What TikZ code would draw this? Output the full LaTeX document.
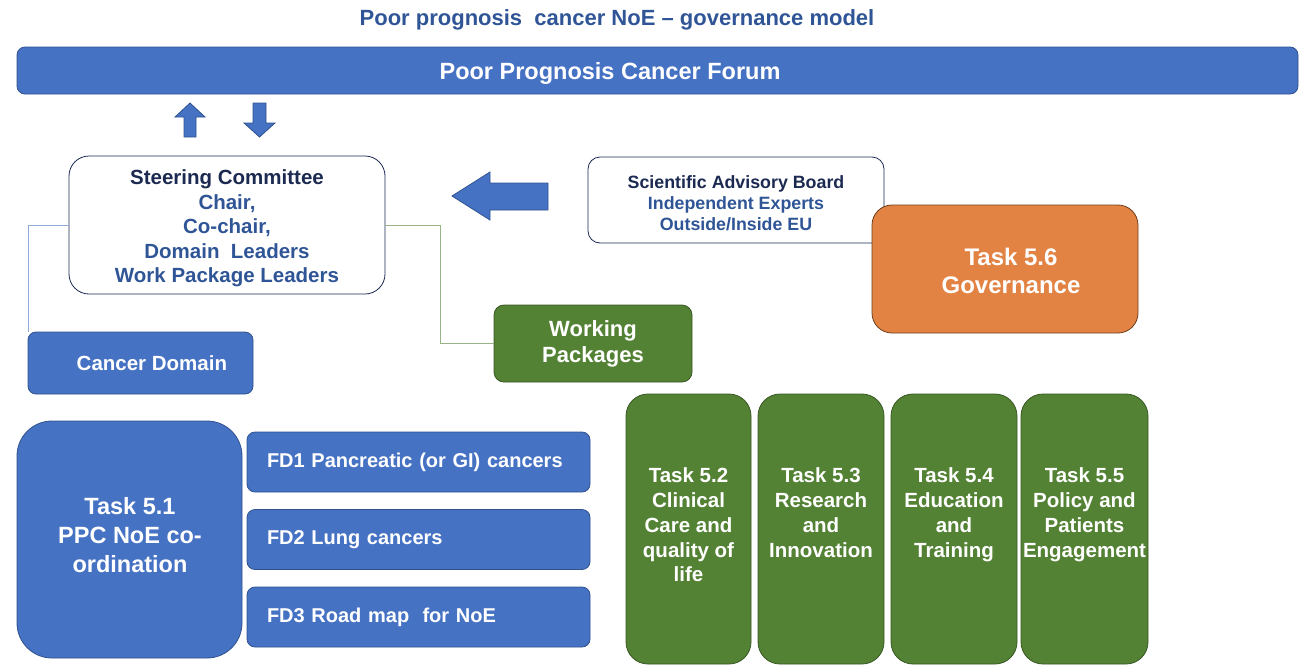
\documentclass[tikz,border=0pt]{standalone}
\usepackage{fontspec}
\setmainfont{Liberation Sans}
\usepackage{xcolor}
\usepackage{tikz}
\usetikzlibrary{positioning}
\definecolor{ppcblue}{RGB}{70,114,196}
\definecolor{ppcblueline}{RGB}{47,82,143}
\definecolor{ppcgreen}{RGB}{84,130,53}
\definecolor{ppcgreenline}{RGB}{56,87,35}
\definecolor{ppcorange}{RGB}{226,131,67}
\definecolor{ppcorangeline}{RGB}{110,62,28}
\definecolor{navytext}{RGB}{47,85,151}
\definecolor{darknavy}{RGB}{28,42,82}

\begin{document}
\begin{tikzpicture}[x=1pt,y=-1pt,
    bluebox/.style={draw=ppcblueline,thick,fill=ppcblue,rounded corners=8pt,text=white,font=\bfseries,align=center,inner sep=0pt},
    greenbox/.style={draw=ppcgreenline,thick,fill=ppcgreen,rounded corners=10pt,text=white,font=\bfseries,align=center,inner sep=0pt},
    whitebox/.style={draw=darknavy,thick,fill=white,align=center,inner sep=0pt,font=\bfseries},
    fdbox/.style={bluebox,text width=303pt,inner xsep=20pt,align=left,minimum height=60pt,font=\fontsize{20}{24}\bfseries},
    taskbox/.style={greenbox,rounded corners=22pt,minimum width=126pt,minimum height=270pt},
    tasktext/.style={text=white,align=center,inner sep=0pt,font=\fontsize{20.5}{24.8}\bfseries},
    blockarrow/.style={draw=ppcblueline,thick,fill=ppcblue,line join=miter}]
    \useasboundingbox (0,0) rectangle (1306,670);
    % Title
    \node[text=navytext,font=\fontsize{22}{26}\bfseries] (title) at (617,20) {Poor prognosis\ \ cancer NoE -- governance model};
    % Forum bar
    \node[bluebox,minimum width=1281pt,minimum height=47pt] (forum) at (657.5,70.5) {};
    \node[text=white,font=\fontsize{23.5}{28}\bfseries,inner sep=0pt] (forumtxt) at (610,73) {Poor Prognosis Cancer Forum};
    % Up and down arrows
    \draw[blockarrow] (184,137) -- (184,117) -- (175,117) -- (190,103) -- (205,117) -- (196,117) -- (196,137) -- cycle;
    \draw[blockarrow] (253,103) -- (253,123) -- (244,123) -- (259.5,137) -- (275,123) -- (266,123) -- (266,103) -- cycle;
    % Steering committee
    \node[whitebox,rounded corners=20pt,minimum width=316pt,minimum height=138pt] (steer) at (227,225) {};
    \node[align=center,inner sep=0pt,font=\fontsize{20.5}{24.5}\bfseries] (steertxt) at (227,228.5)
        {\textcolor{darknavy}{Steering Committee}\\ \textcolor{navytext}{Chair,}\\ \textcolor{navytext}{Co-chair,}\\ \textcolor{navytext}{Domain\ \ Leaders}\\ \textcolor{navytext}{Work Package\ Leaders}};
    % Scientific advisory board and arrow to committee
    \node[whitebox,rounded corners=12pt,minimum width=296pt,minimum height=86pt] (sab) at (736,200) {};
    \node[align=center,inner sep=0pt,font=\fontsize{17.8}{21}\bfseries] (sabtxt) at (736,203)
        {\textcolor{darknavy}{Scientific Advisory Board}\\ \textcolor{navytext}{Independent Experts}\\ \textcolor{navytext}{Outside/Inside EU}};
    \draw[blockarrow] (548,183) -- (490,183) -- (490,172) -- (452,196) -- (490,220) -- (490,210) -- (548,210) -- cycle;
    % Governance
    \node[draw=ppcorangeline,thick,fill=ppcorange,rounded corners=20pt,minimum width=266pt,minimum height=128pt] (gov) at (1005,269) {};
    \node[text=white,align=center,inner sep=0pt,font=\fontsize{24}{28}\bfseries] (govtxt) at (1011,271) {Task 5.6\\ Governance};
    % Domain and packages
    \node[bluebox,minimum width=225pt,minimum height=62pt,font=\fontsize{20.5}{24}\bfseries] (cdom) at (140.5,363) {\ \ \ \ Cancer Domain};
    \node[greenbox,minimum width=198pt,minimum height=77pt,font=\fontsize{22}{26}\bfseries] (wp) at (593,343.5) {Working\\ Packages};
    \coordinate (wpbend) at (440,0);
    \draw[ppcblue!60] (steer.west) -| ([xshift=1pt]cdom.north west);
    \draw[ppcgreen!60] (steer.east) -| (wpbend |- wp.west) -- (wp.west);
    % Task 5.1 and focus domains
    \node[bluebox,rounded corners=35pt,minimum width=225pt,minimum height=237pt] (t51) at (129.5,539.5) {};
    \node[text=white,align=center,inner sep=0pt,font=\fontsize{23.5}{29}\bfseries] (t51txt) at (130,535) {Task 5.1\\ PPC NoE co-\\ ordination};
    \node[fdbox] (fd1) at (418.5,462) {FD1 Pancreatic (or GI) cancers};
    \node[fdbox] (fd2) at (418.5,539.5) {FD2 Lung cancers};
    \node[fdbox] (fd3) at (418.5,617) {FD3 Road map\ \ for NoE};
    % Work package tasks
    \node[taskbox,minimum width=125pt] (t52) at (688.5,529) {};
    \node[taskbox] (t53) at (821,529) {};
    \node[taskbox] (t54) at (954,529) {};
    \node[taskbox,minimum width=127pt] (t55) at (1084.5,529) {};
    \node[tasktext,anchor=north] (t52txt) at ([yshift=-74pt]t52.north) {Task 5.2\\ Clinical\\ Care and\\ quality\ of\\ life};
    \node[tasktext,anchor=north] (t53txt) at ([yshift=-74pt]t53.north) {Task 5.3\\ Research\\ and\\ Innovation};
    \node[tasktext,anchor=north] (t54txt) at ([yshift=-74pt]t54.north) {Task 5.4\\ Education\\ and\\ Training};
    \node[tasktext,anchor=north] (t55txt) at ([yshift=-74pt]t55.north) {Task 5.5\\ Policy and\\ Patients\\ Engagement};
\end{tikzpicture}
\end{document}
